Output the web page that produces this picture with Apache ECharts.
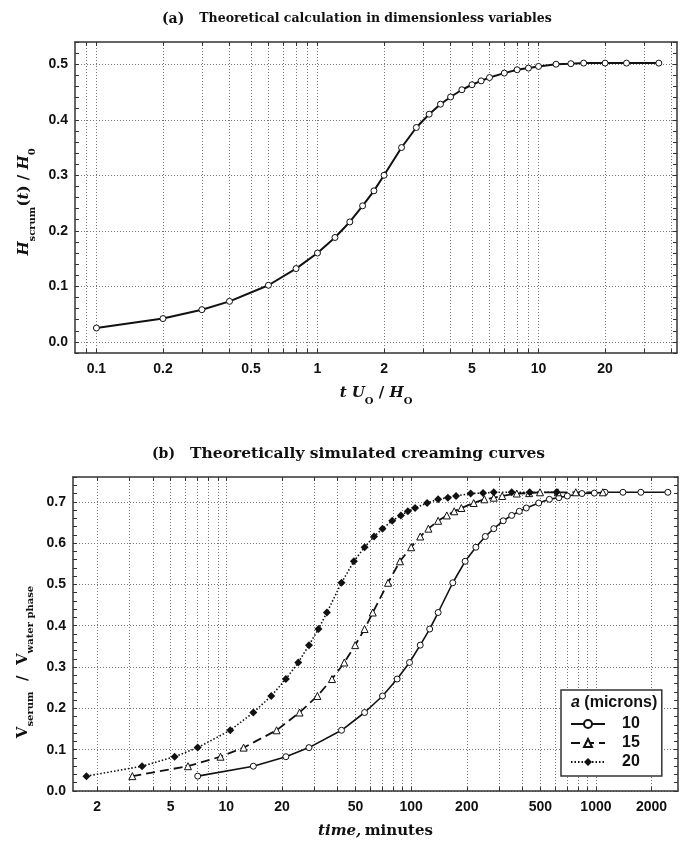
<!DOCTYPE html>
<html>
<head>
<meta charset="utf-8">
<script src="https://cdn.jsdelivr.net/npm/echarts@6.0.0/dist/echarts.min.js"></script>
<style>
html, body { margin: 0; padding: 0; background: #fff; }
#chart { width: 693px; height: 845px; }
</style>
</head>
<body>
<div id="chart"></div>
<script>
// (a) dimensionless time t*U0/H0 and H_serum/H0
const tauA = [0.1, 0.2, 0.3, 0.4, 0.6, 0.8, 1, 1.2, 1.4, 1.6, 1.8, 2, 2.4, 2.8, 3.2, 3.6, 4, 4.5, 5, 5.5, 6, 7, 8, 9, 10, 12, 14, 16, 20, 25, 35]
const heightA = [0.025, 0.042, 0.058, 0.073, 0.102, 0.132, 0.160, 0.188, 0.216, 0.245, 0.272, 0.300, 0.350, 0.386, 0.410, 0.428, 0.441, 0.454, 0.463, 0.470, 0.476, 0.484, 0.490, 0.493, 0.496, 0.500, 0.501, 0.502, 0.502, 0.502, 0.502]

// (b) creaming curves, time in minutes
const time10 = [7, 14, 21, 28, 42, 56, 70, 84, 98, 112, 126, 140, 168, 196, 224, 252, 280, 315, 350, 385, 420, 490, 560, 630, 700, 840, 980, 1120, 1400, 1750, 2450]
const serum10 = [0.036, 0.060, 0.083, 0.105, 0.147, 0.190, 0.230, 0.271, 0.311, 0.353, 0.392, 0.432, 0.504, 0.556, 0.590, 0.616, 0.635, 0.654, 0.667, 0.677, 0.685, 0.697, 0.706, 0.710, 0.714, 0.720, 0.721, 0.723, 0.723, 0.723, 0.723]
const time15 = [3.1, 6.2, 9.3, 12.4, 18.7, 24.9, 31.1, 37.3, 43.5, 49.8, 56, 62, 75, 87, 100, 112, 124, 140, 156, 171, 187, 218, 249, 280, 311, 373, 435, 498, 622, 778, 1090]
const serum15 = [0.036, 0.060, 0.083, 0.105, 0.147, 0.190, 0.230, 0.271, 0.311, 0.353, 0.392, 0.432, 0.504, 0.556, 0.590, 0.616, 0.635, 0.654, 0.667, 0.677, 0.685, 0.697, 0.706, 0.710, 0.714, 0.720, 0.721, 0.723, 0.723, 0.723, 0.723]
const time20 = [1.75, 3.5, 5.25, 7, 10.5, 14, 17.5, 21, 24.5, 28, 31.5, 35, 42, 49, 56, 63, 70, 79, 88, 96, 105, 122, 140, 158, 175, 210, 245, 280, 350, 438, 612]
const serum20 = [0.036, 0.060, 0.083, 0.105, 0.147, 0.190, 0.230, 0.271, 0.311, 0.353, 0.392, 0.432, 0.504, 0.556, 0.590, 0.616, 0.635, 0.654, 0.667, 0.677, 0.685, 0.697, 0.706, 0.710, 0.714, 0.720, 0.721, 0.723, 0.723, 0.723, 0.723]

// ticks
const xLabelsA = [0.1, 0.2, 0.5, 1, 2, 5, 10, 20]
const xLinesA = [0.09, 0.1, 0.2, 0.3, 0.4, 0.5, 0.6, 0.7, 0.8, 0.9, 1, 2, 3, 4, 5, 6, 7, 8, 9, 10, 20, 30, 40]
const yLabelsA = [0, 0.1, 0.2, 0.3, 0.4, 0.5]
const xLabelsB = [2, 5, 10, 20, 50, 100, 200, 500, 1000, 2000]
const xLinesB = [2, 3, 4, 5, 6, 7, 8, 9, 10, 20, 30, 40, 50, 60, 70, 80, 90, 100, 200, 300, 400, 500, 600, 700, 800, 900, 1000, 2000]
const yLabelsB = [0, 0.1, 0.2, 0.3, 0.4, 0.5, 0.6, 0.7]

const serif = '"DejaVu Serif", serif'
const sans = '"Liberation Sans", Arial, sans-serif'

const frameLine = {show: true, onZero: false, lineStyle: {color: '#333', width: 1.5}}
const gridLine = {show: true, lineStyle: {color: '#777', type: [1, 2], width: 1}}
const tickFont = {color: '#111', fontFamily: sans, fontWeight: 'bold', fontSize: 14}

const nameRich = {
  i: {fontFamily: serif, fontStyle: 'italic', fontWeight: 'bold', fontSize: 15, lineHeight: 18, verticalAlign: 'top', color: '#111'},
  n: {fontFamily: serif, fontWeight: 'bold', fontSize: 15, lineHeight: 18, verticalAlign: 'top', color: '#111'},
  s: {fontFamily: serif, fontWeight: 'bold', fontSize: 10, lineHeight: 10, padding: [10, 0, 0, 0], verticalAlign: 'top', color: '#111'}
}

function xAxes(gridIndex, min, max, lines, labels, name) {
  const lo = Math.log10(min)
  const hi = Math.log10(max)
  return [
    {gridIndex, type: 'log', min, max, show: false},
    {
      gridIndex, type: 'value', position: 'bottom', min: lo, max: hi,
      axisLine: frameLine,
      axisTick: {show: true, inside: true, length: 4, customValues: lines.map(v => Math.log10(v)), lineStyle: {color: '#333'}},
      axisLabel: {...tickFont, margin: 9, customValues: labels.map(v => Math.log10(v)),
        formatter: v => String(+Math.pow(10, v).toPrecision(3))},
      splitLine: gridLine,
      name, nameLocation: 'middle', nameGap: 33, nameTextStyle: {rich: nameRich}
    },
    {
      gridIndex, type: 'value', position: 'top', min: lo, max: hi,
      axisLine: frameLine,
      axisTick: {show: true, inside: true, length: 4, customValues: lines.map(v => Math.log10(v)), lineStyle: {color: '#333'}},
      axisLabel: {show: false},
      splitLine: {show: false}
    }
  ]
}

function yAxes(gridIndex, min, max, labels, name, gap, pad) {
  return [
    {
      gridIndex, type: 'value', position: 'left', min, max,
      axisLine: {show: false, onZero: false},
      axisTick: {show: false, customValues: labels},
      axisLabel: {...tickFont, margin: 7, customValues: labels, formatter: v => v.toFixed(1)},
      splitLine: gridLine,
      name, nameLocation: 'middle', nameGap: gap, nameRotate: 90,
      nameTextStyle: {rich: nameRich, padding: pad}
    },
    {
      gridIndex, type: 'value', position: 'left', min, max, interval: 0.02,
      axisLine: frameLine,
      axisTick: {show: true, inside: true, length: 4, lineStyle: {color: '#333'}},
      axisLabel: {show: false},
      splitLine: {show: false}
    },
    {
      gridIndex, type: 'value', position: 'right', min, max, interval: 0.02,
      axisLine: frameLine,
      axisTick: {show: true, inside: true, length: 4, lineStyle: {color: '#333'}},
      axisLabel: {show: false},
      splitLine: {show: false}
    }
  ]
}

const pairs = (xs, ys) => xs.map((x, i) => [x, ys[i]])

const chart = echarts.init(document.getElementById('chart'))

chart.setOption({
  animation: false,
  backgroundColor: '#fff',
  title: [
    {
      left: 157, top: 5,
      text: '{n|(a)}   {b|Theoretical calculation in dimensionless variables}',
      textStyle: {rich: {
        n: {fontFamily: serif, fontSize: 14, color: '#111'},
        b: {fontFamily: serif, fontWeight: 'bold', fontSize: 12.5, color: '#111'}
      }}
    },
    {
      left: 147, top: 440,
      text: '{n|(b)}   {b|Theoretically simulated creaming curves}',
      textStyle: {rich: {
        n: {fontFamily: serif, fontWeight: 'bold', fontSize: 14, color: '#111'},
        b: {fontFamily: serif, fontWeight: 'bold', fontSize: 15.5, color: '#111'}
      }}
    }
  ],
  grid: [
    {left: 75, top: 42, width: 602, height: 311},
    {left: 73, top: 477, width: 605, height: 314}
  ],
  xAxis: [
    ...xAxes(0, 0.08, 42.3, xLinesA, xLabelsA, '{i|t U}{s|O}{n| / }{i|H}{s|O}'),
    ...xAxes(1, 1.48, 2780, xLinesB, xLabelsB, '{i|time,} {n|minutes}')
  ],
  yAxis: [
    ...yAxes(0, -0.02, 0.54, yLabelsA, '{i|H}{s|scrum}{n|(}{i|t}{n|) / }{i|H}{s|0}', 40, [0, 9, 0, 0]),
    ...yAxes(1, 0, 0.76, yLabelsB, '{n|V}{s|serum}{n|  /  V}{s|water phase}', 36, [0, 56, 0, 0])
  ],
  legend: {
    data: ['10', '15', '20'],
    orient: 'vertical',
    left: 561, top: 690,
    padding: [26, 22, 6, 9],
    itemWidth: 34, itemHeight: 10, itemGap: 3,
    backgroundColor: '#fff', borderColor: '#333', borderWidth: 1.5,
    textStyle: {fontFamily: sans, fontWeight: 'bold', fontSize: 16, color: '#111', padding: [0, 0, 0, 12]}
  },
  graphic: [
    {
      type: 'text', left: 571, top: 695, z: 100,
      style: {
        text: '{i|a} (microns)',
        fontFamily: sans, fontWeight: 'bold', fontSize: 16, fill: '#111',
        rich: {i: {fontFamily: sans, fontStyle: 'italic', fontWeight: 'bold', fontSize: 16}}
      }
    }
  ],
  series: [
    {
      name: 'H', type: 'line', xAxisIndex: 0, yAxisIndex: 0,
      data: pairs(tauA, heightA),
      symbol: 'circle', symbolSize: 6, showAllSymbol: true,
      lineStyle: {color: '#111', width: 2},
      itemStyle: {color: '#fff', borderColor: '#111', borderWidth: 1}
    },
    {
      name: '10', type: 'line', xAxisIndex: 3, yAxisIndex: 3,
      data: pairs(time10, serum10),
      symbol: 'circle', symbolSize: 6, showAllSymbol: true,
      lineStyle: {color: '#111', width: 1.6},
      itemStyle: {color: '#fff', borderColor: '#111', borderWidth: 1}
    },
    {
      name: '15', type: 'line', xAxisIndex: 3, yAxisIndex: 3,
      data: pairs(time15, serum15),
      symbol: 'triangle', symbolSize: 7, showAllSymbol: true,
      lineStyle: {color: '#111', width: 1.8, type: [9, 5]},
      itemStyle: {color: '#fff', borderColor: '#111', borderWidth: 1}
    },
    {
      name: '20', type: 'line', xAxisIndex: 3, yAxisIndex: 3,
      data: pairs(time20, serum20),
      symbol: 'diamond', symbolSize: 8, showAllSymbol: true,
      lineStyle: {color: '#111', width: 1.6, type: [1.5, 2]},
      itemStyle: {color: '#111', borderColor: '#111', borderWidth: 0}
    }
  ]
})
</script>
</body>
</html>
